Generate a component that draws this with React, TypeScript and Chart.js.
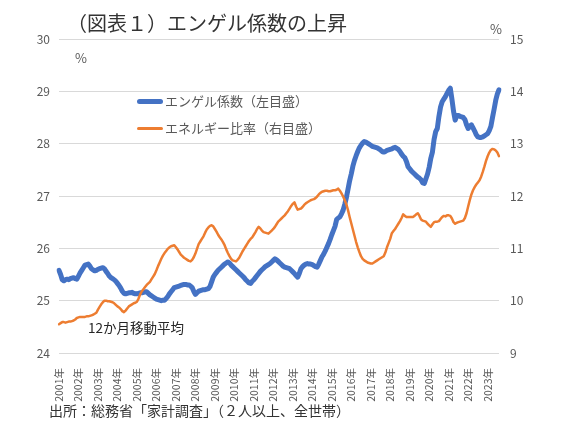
import React, { useEffect, useRef } from 'react';
import { Chart, registerables } from 'chart.js';

Chart.register(...registerables);

const years = ['2001', '2002', '2003', '2004', '2005', '2006', '2007', '2008', '2009', '2010', '2011', '2012',
    '2013', '2014', '2015', '2016', '2017', '2018', '2019', '2020', '2021', '2022', '2023'];
const lastMonth = 8; // 2023年8月まで

// エンゲル係数（左目盛、12か月移動平均）
const engel = [
    25.58, 25.50, 25.40, 25.38, 25.40, 25.41, 25.40, 25.42, 25.43, 25.44, 25.42, 25.41, // 2001
    25.47, 25.53, 25.58, 25.63, 25.68, 25.69, 25.70, 25.66, 25.61, 25.59, 25.57, 25.58,
    25.60, 25.61, 25.62, 25.63, 25.61, 25.56, 25.52, 25.47, 25.44, 25.42, 25.40, 25.37,
    25.33, 25.29, 25.24, 25.18, 25.14, 25.13, 25.14, 25.15, 25.15, 25.16, 25.14, 25.13,
    25.13, 25.14, 25.15, 25.15, 25.16, 25.17, 25.17, 25.14, 25.11, 25.09, 25.07, 25.05, // 2005
    25.03, 25.02, 25.01, 25.00, 25.01, 25.01, 25.04, 25.08, 25.13, 25.17, 25.21, 25.25,
    25.26, 25.27, 25.28, 25.29, 25.30, 25.31, 25.31, 25.30, 25.30, 25.28, 25.25, 25.18,
    25.12, 25.15, 25.18, 25.19, 25.20, 25.21, 25.21, 25.22, 25.23, 25.27, 25.36, 25.45,
    25.50, 25.54, 25.58, 25.61, 25.64, 25.67, 25.70, 25.72, 25.74, 25.72, 25.68, 25.65,
    25.62, 25.59, 25.56, 25.53, 25.50, 25.47, 25.44, 25.40, 25.37, 25.34, 25.33, 25.37, // 2010
    25.40, 25.44, 25.48, 25.52, 25.56, 25.59, 25.62, 25.65, 25.67, 25.69, 25.71, 25.74,
    25.77, 25.80, 25.78, 25.75, 25.72, 25.69, 25.66, 25.64, 25.63, 25.62, 25.61, 25.58,
    25.55, 25.52, 25.48, 25.45, 25.52, 25.61, 25.65, 25.68, 25.70, 25.71, 25.70, 25.70,
    25.69, 25.67, 25.65, 25.64, 25.70, 25.77, 25.84, 25.89, 25.95, 26.02, 26.09, 26.17,
    26.26, 26.34, 26.42, 26.55, 26.58, 26.60, 26.66, 26.73, 26.84, 26.97, 27.13, 27.29, // 2015
    27.42, 27.57, 27.68, 27.77, 27.85, 27.92, 27.97, 28.01, 28.04, 28.03, 28.01, 27.99,
    27.97, 27.95, 27.94, 27.93, 27.92, 27.90, 27.88, 27.85, 27.84, 27.85, 27.87, 27.88,
    27.89, 27.90, 27.92, 27.93, 27.91, 27.89, 27.85, 27.80, 27.76, 27.73, 27.66, 27.56,
    27.52, 27.48, 27.45, 27.42, 27.39, 27.36, 27.34, 27.31, 27.25, 27.24, 27.33, 27.42,
    27.55, 27.72, 27.84, 28.08, 28.23, 28.29, 28.52, 28.70, 28.80, 28.85, 28.90, 28.96, // 2020
    29.02, 29.06, 28.85, 28.62, 28.45, 28.54, 28.54, 28.52, 28.51, 28.50, 28.46, 28.36,
    28.29, 28.33, 28.36, 28.30, 28.24, 28.17, 28.13, 28.12, 28.12, 28.13, 28.15, 28.17,
    28.19, 28.25, 28.33, 28.50, 28.66, 28.83, 28.95, 29.03,
];

// エネルギー比率（右目盛）
const energy = [
    9.55, 9.57, 9.59, 9.59, 9.58, 9.59, 9.60, 9.60, 9.61, 9.62, 9.64, 9.67, // 2001
    9.68, 9.69, 9.69, 9.69, 9.69, 9.70, 9.70, 9.71, 9.72, 9.73, 9.75, 9.77,
    9.83, 9.88, 9.93, 9.97, 10.00, 10.00, 9.99, 9.99, 9.98, 9.97, 9.95, 9.92,
    9.89, 9.87, 9.84, 9.80, 9.78, 9.81, 9.85, 9.89, 9.91, 9.93, 9.95, 9.96,
    9.98, 10.04, 10.12, 10.18, 10.22, 10.26, 10.30, 10.33, 10.36, 10.41, 10.46, 10.51, // 2005
    10.58, 10.66, 10.73, 10.80, 10.86, 10.91, 10.95, 10.99, 11.02, 11.04, 11.05, 11.06,
    11.02, 10.98, 10.93, 10.88, 10.85, 10.82, 10.80, 10.78, 10.76, 10.75, 10.78, 10.83,
    10.90, 10.99, 11.08, 11.13, 11.18, 11.23, 11.30, 11.36, 11.40, 11.43, 11.44, 11.42,
    11.37, 11.32, 11.26, 11.21, 11.17, 11.12, 11.06, 10.98, 10.91, 10.85, 10.80, 10.77,
    10.76, 10.75, 10.78, 10.82, 10.88, 10.94, 10.99, 11.04, 11.09, 11.14, 11.18, 11.21, // 2010
    11.26, 11.31, 11.37, 11.41, 11.38, 11.34, 11.31, 11.30, 11.29, 11.28, 11.31, 11.34,
    11.37, 11.41, 11.46, 11.51, 11.54, 11.57, 11.60, 11.63, 11.67, 11.71, 11.76, 11.81,
    11.85, 11.88, 11.80, 11.74, 11.75, 11.76, 11.79, 11.83, 11.86, 11.88, 11.90, 11.92,
    11.93, 11.94, 11.96, 11.99, 12.03, 12.06, 12.08, 12.09, 12.10, 12.10, 12.09, 12.09,
    12.10, 12.11, 12.11, 12.12, 12.14, 12.10, 12.05, 11.99, 11.92, 11.84, 11.73, 11.60, // 2015
    11.48, 11.36, 11.24, 11.12, 11.02, 10.93, 10.85, 10.80, 10.77, 10.75, 10.73, 10.72,
    10.71, 10.71, 10.73, 10.75, 10.77, 10.79, 10.81, 10.83, 10.85, 10.92, 11.02, 11.10,
    11.18, 11.29, 11.33, 11.37, 11.42, 11.47, 11.52, 11.58, 11.65, 11.62, 11.60, 11.60,
    11.60, 11.60, 11.60, 11.62, 11.65, 11.67, 11.62, 11.55, 11.53, 11.52, 11.51, 11.47,
    11.44, 11.41, 11.46, 11.50, 11.51, 11.51, 11.52, 11.56, 11.60, 11.62, 11.61, 11.63, // 2020
    11.63, 11.62, 11.57, 11.50, 11.47, 11.49, 11.50, 11.51, 11.52, 11.53, 11.58, 11.67,
    11.80, 11.92, 12.03, 12.11, 12.17, 12.22, 12.26, 12.30, 12.37, 12.46, 12.56, 12.67,
    12.76, 12.83, 12.88, 12.90, 12.89, 12.87, 12.83, 12.76,
];

const leftTicks = [24, 30];
const rightTicks = [9, 15];

// 月次のカテゴリ（2001/01 ～ 2023/08）
const months: string[] = [];
years.forEach((y, yi) => {
    const n = yi === years.length - 1 ? lastMonth : 12;
    for (let m = 1; m <= n; m++) months.push(y + '/' + (m < 10 ? '0' + m : m));
});

const FONT = "'Noto Sans CJK JP', 'Noto Sans', sans-serif";
const BLUE = '#4472C4';
const ORANGE = '#ED7D31';
const GRAY = '#595959';

const abs = (left: number, top: number, extra: React.CSSProperties = {}): React.CSSProperties => ({
    position: 'absolute', left, top, whiteSpace: 'nowrap', ...extra,
});

const App = () => {
    const chartRef = useRef<HTMLCanvasElement | null>(null);

    useEffect(() => {
        if (!chartRef.current) return;
        const ctx = chartRef.current.getContext('2d');
        if (!ctx) return;

        const myChart = new Chart(ctx, {
            type: 'line',
            data: {
                labels: months,
                datasets: [
                    {
                        label: 'エンゲル係数（左目盛）',
                        data: engel,
                        yAxisID: 'y',
                        borderColor: BLUE,
                        borderWidth: 5,
                        borderCapStyle: 'round',
                        borderJoinStyle: 'round',
                        pointRadius: 0,
                        order: 2,
                    },
                    {
                        label: 'エネルギー比率（右目盛）',
                        data: energy,
                        yAxisID: 'y2',
                        borderColor: ORANGE,
                        borderWidth: 2.5,
                        borderCapStyle: 'round',
                        borderJoinStyle: 'round',
                        pointRadius: 0,
                        order: 1,
                    },
                ],
            },
            options: {
                responsive: false,
                animation: false,
                layout: { padding: { top: 39, left: 0, right: 0, bottom: 0 } },
                plugins: { legend: { display: false }, tooltip: { enabled: false } },
                scales: {
                    x: {
                        type: 'category',
                        offset: false,
                        grid: { display: false },
                        border: { display: false },
                        ticks: {
                            autoSkip: false,
                            minRotation: 90,
                            maxRotation: 90,
                            padding: 7,
                            color: GRAY,
                            font: { family: FONT, size: 10.5 },
                            callback: (v: any) => {
                                const s = months[v as number];
                                return s.endsWith('/01') ? s.slice(0, 4) + '年' : null;
                            },
                        },
                        afterFit: (s: any) => { s.height = 78; },
                    },
                    y: {
                        position: 'left',
                        min: leftTicks[0],
                        max: leftTicks[1],
                        grid: { color: '#D9D9D9', lineWidth: 1, drawTicks: false },
                        border: { display: false },
                        ticks: { stepSize: 1, padding: 9, color: GRAY, font: { family: FONT, size: 12 } },
                        afterFit: (s: any) => { s.width = 59; },
                    },
                    y2: {
                        position: 'right',
                        min: rightTicks[0],
                        max: rightTicks[1],
                        grid: { display: false, drawTicks: false },
                        border: { display: false },
                        ticks: { stepSize: 1, padding: 11, color: GRAY, font: { family: FONT, size: 12 } },
                        afterFit: (s: any) => { s.width = 76; },
                    },
                },
            },
        });

        return () => {
            myChart.destroy();
        };
    }, []);

    return (
        <div style={{ position: 'absolute', left: 0, top: 0, width: 575, height: 431, background: '#fff', fontFamily: FONT }}>
            <canvas ref={chartRef} width={575} height={431} style={{ display: 'block' }}></canvas>
            <div style={abs(67, 9, { fontSize: 20, lineHeight: '28px', color: '#333' })}>（図表１）エンゲル係数の上昇</div>
            <div style={abs(75, 49, { fontSize: 13, lineHeight: '18px', color: GRAY })}>%</div>
            <div style={abs(490, 20, { fontSize: 13, lineHeight: '18px', color: GRAY })}>%</div>
            <div style={abs(137, 98.5, { width: 26, height: 5, borderRadius: 2.5, background: BLUE })}></div>
            <div style={abs(165, 91.5, { fontSize: 13, lineHeight: '18px', color: GRAY })}>エンゲル係数（左目盛）</div>
            <div style={abs(137, 126.5, { width: 26, height: 3, borderRadius: 1.5, background: ORANGE })}></div>
            <div style={abs(165, 118.5, { fontSize: 13, lineHeight: '18px', color: GRAY })}>エネルギー比率（右目盛）</div>
            <div style={abs(88, 317, { fontSize: 13.5, lineHeight: '20px', color: '#262626' })}>12か月移動平均</div>
            <div style={abs(49, 400, { fontSize: 14, lineHeight: '20px', color: '#333' })}>出所：総務省「家計調査」（２人以上、全世帯）</div>
        </div>
    );
};

export default App;
